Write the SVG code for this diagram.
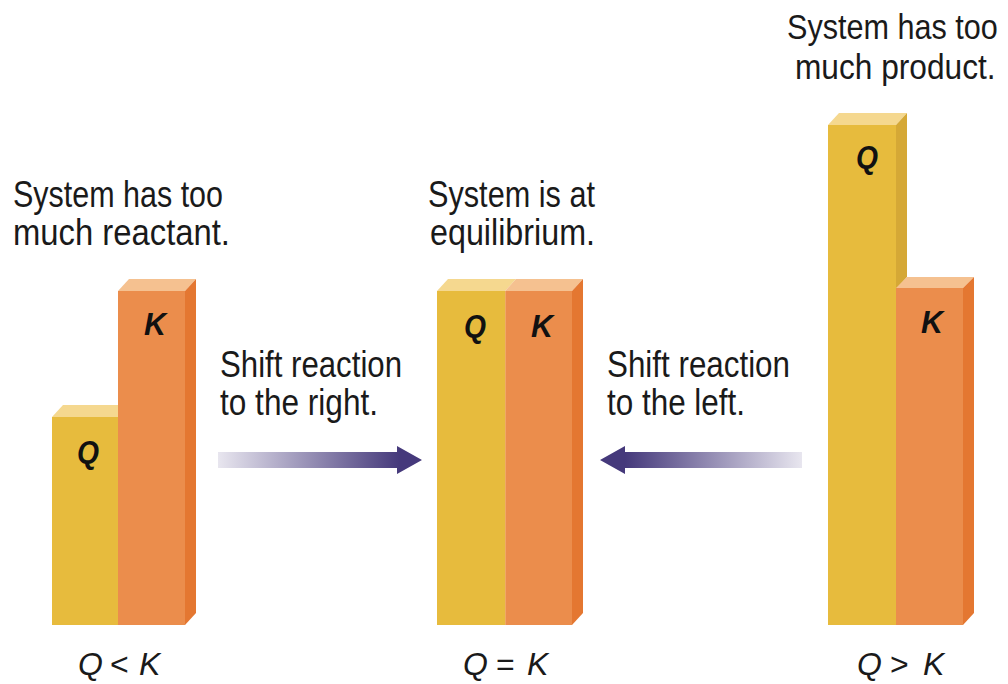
<svg xmlns="http://www.w3.org/2000/svg" width="1008" height="684" viewBox="0 0 1008 684">
<style>
.qf{fill:#e7bb3d}.qt{fill:#f5d88f}.qs{fill:#d5a836}
.kf{fill:#eb8d4c}.kt{fill:#f5c190}.ks{fill:#e47731}
.lbl{font-family:"Liberation Sans Narrow","Liberation Sans",Arial,sans-serif;font-size:36px;fill:#1a1a1a}
.bar{font-family:"Liberation Sans Narrow","Liberation Sans",Arial,sans-serif;font-size:32px;font-weight:bold;font-style:italic;fill:#111;text-anchor:middle}
.eq{font-family:"Liberation Sans Narrow","Liberation Sans",Arial,sans-serif;font-size:32px;fill:#1a1a1a}
.it{font-style:italic}
</style>
<defs>
<linearGradient id="gR" gradientUnits="userSpaceOnUse" x1="218" y1="0" x2="400" y2="0">
<stop offset="0" stop-color="#e8e6ef"/><stop offset="1" stop-color="#45397b"/>
</linearGradient>
<linearGradient id="gL" gradientUnits="userSpaceOnUse" x1="802" y1="0" x2="625" y2="0">
<stop offset="0" stop-color="#e8e6ef"/><stop offset="1" stop-color="#45397b"/>
</linearGradient>
</defs>

<g id="left">
<rect class="qf" x="52" y="417" width="66" height="208"/>
<polygon class="qt" points="52,417 63,405 129,405 118,417"/>
<rect class="kf" x="118" y="291" width="67" height="334"/>
<polygon class="kt" points="118,291 129,279 196,279 185,291"/>
<polygon class="ks" points="185,291 196,279 196,613 185,625"/>
<text class="bar" x="88" y="463" textLength="22" lengthAdjust="spacingAndGlyphs">Q</text>
<text class="bar" x="155" y="335" textLength="22" lengthAdjust="spacingAndGlyphs">K</text>
<text class="lbl" x="13" y="207" textLength="210" lengthAdjust="spacingAndGlyphs">System has too</text>
<text class="lbl" x="13" y="245" textLength="217" lengthAdjust="spacingAndGlyphs">much reactant.</text>
<text class="eq it" x="78" y="675">Q</text>
<text class="eq" x="110" y="675">&lt;</text>
<text class="eq it" x="139" y="675">K</text>
</g>

<g id="middle">
<rect class="qf" x="437" y="291" width="68" height="334"/>
<polygon class="qt" points="437,291 448,279 516,279 505,291"/>
<rect class="kf" x="505" y="291" width="67" height="334"/>
<polygon class="kt" points="505,291 516,279 583,279 572,291"/>
<polygon class="ks" points="572,291 583,279 583,613 572,625"/>
<line x1="505.5" y1="291" x2="505.5" y2="625" stroke="#f0a866" stroke-width="1"/>
<text class="bar" x="475" y="337" textLength="22" lengthAdjust="spacingAndGlyphs">Q</text>
<text class="bar" x="542" y="337" textLength="22" lengthAdjust="spacingAndGlyphs">K</text>
<text class="lbl" x="428" y="207" textLength="167" lengthAdjust="spacingAndGlyphs">System is at</text>
<text class="lbl" x="430" y="245" textLength="165" lengthAdjust="spacingAndGlyphs">equilibrium.</text>
<text class="eq it" x="463" y="675">Q</text>
<text class="eq" x="496" y="675">=</text>
<text class="eq it" x="527" y="675">K</text>
</g>

<g id="right">
<rect class="qf" x="828" y="125" width="68" height="500"/>
<polygon class="qt" points="828,125 839,113 907,113 896,125"/>
<polygon class="qs" points="896,125 907,113 907,277 896,289"/>
<rect class="kf" x="896" y="288" width="67" height="337"/>
<polygon class="kt" points="896,288 907,277 974,277 963,288"/>
<polygon class="ks" points="963,288 974,277 974,613 963,625"/>
<text class="bar" x="867" y="168" textLength="22" lengthAdjust="spacingAndGlyphs">Q</text>
<text class="bar" x="932" y="333" textLength="22" lengthAdjust="spacingAndGlyphs">K</text>
<text class="lbl" transform="translate(787,39) scale(0.85,1)" x="0" y="0" textLength="248" lengthAdjust="spacingAndGlyphs">System has too</text>
<text class="lbl" transform="translate(795,79) scale(0.85,1)" x="0" y="0" textLength="236" lengthAdjust="spacingAndGlyphs">much product.</text>
<text class="eq it" x="857" y="675">Q</text>
<text class="eq" x="890" y="675">&gt;</text>
<text class="eq it" x="923" y="675">K</text>
</g>

<g id="connectors">
<polygon fill="url(#gR)" points="218,452 397,452 397,446 422,460 397,474 397,468 218,468"/>
<polygon fill="url(#gL)" points="802,452 625,452 625,446 600,460 625,474 625,468 802,468"/>
<text class="lbl" x="220" y="377" textLength="182" lengthAdjust="spacingAndGlyphs">Shift reaction</text>
<text class="lbl" x="220" y="415" textLength="158" lengthAdjust="spacingAndGlyphs">to the right.</text>
<text class="lbl" x="607" y="377" textLength="183" lengthAdjust="spacingAndGlyphs">Shift reaction</text>
<text class="lbl" x="607" y="415" textLength="138" lengthAdjust="spacingAndGlyphs">to the left.</text>
</g>
</svg>
